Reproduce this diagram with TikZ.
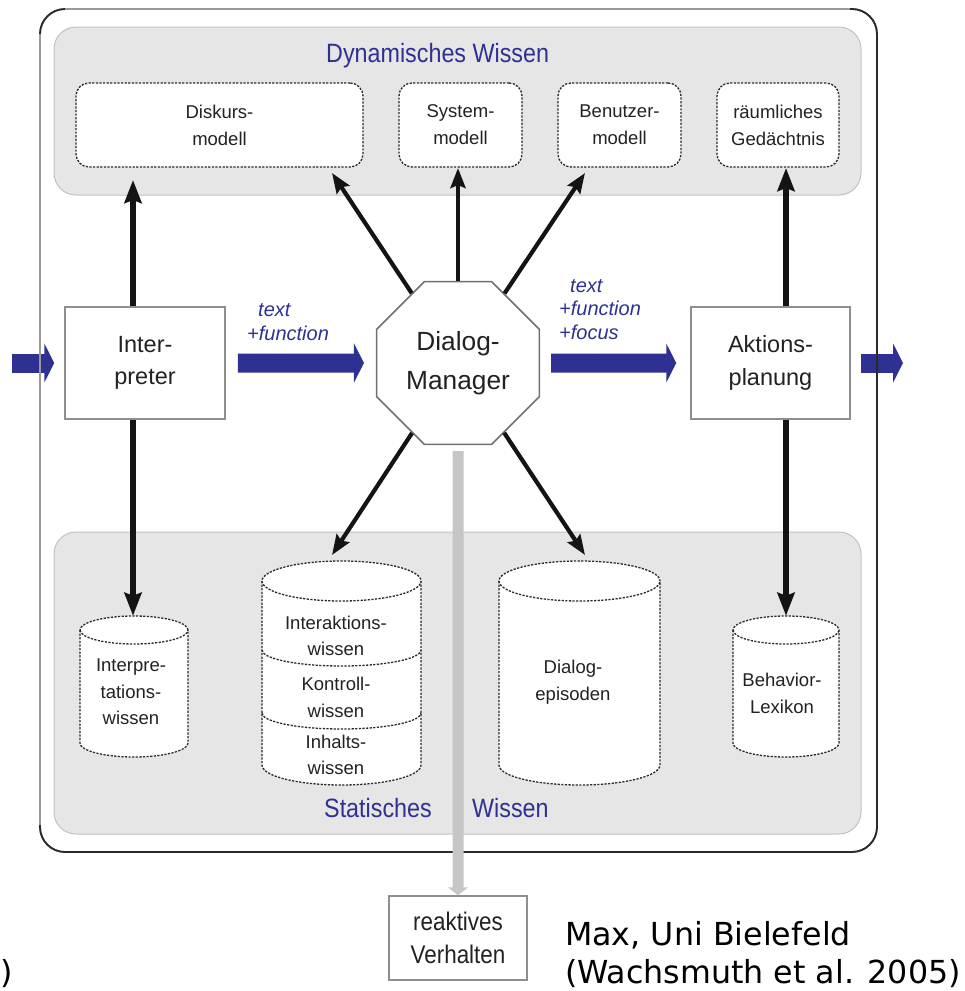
\documentclass[tikz,border=0pt]{standalone}
\usepackage{fontspec}
\usetikzlibrary{arrows.meta,shapes.geometric}
\setmainfont{Liberation Sans}
\newfontfamily\sansfont{Liberation Sans}
\newfontfamily\narrowfont[FakeStretch=0.88]{Liberation Sans}
\newfontfamily\creditfont{DejaVu Sans}

\definecolor{diagblue}{HTML}{2E3192}
\definecolor{panelfill}{HTML}{E6E6E6}
\definecolor{panelline}{HTML}{C2C2C2}
\definecolor{dashline}{HTML}{2A2A2A}
\definecolor{boxline}{HTML}{8E8E8E}
\definecolor{octline}{HTML}{707070}
\definecolor{arrowblack}{HTML}{141414}
\definecolor{barg}{HTML}{C6C6C6}
\definecolor{outerlight}{HTML}{9A9A9A}
\definecolor{outerdark}{HTML}{2A2A2A}
\definecolor{textdark}{HTML}{222222}

% cylinder outline: centre x, top y, bottom y, x radius, y radius (y measured downwards)
\newcommand\cylshape[5]{%
  \draw[cylline, fill=white] (#1-#4,-#2-#5) -- (#1-#4,-#3+#5)
    arc[start angle=180, end angle=360, x radius=#4pt, y radius=#5pt]
    -- (#1+#4,-#2-#5)
    arc[start angle=0, end angle=180, x radius=#4pt, y radius=#5pt] -- cycle;
  \draw[cylline] (#1-#4,-#2-#5)
    arc[start angle=180, end angle=360, x radius=#4pt, y radius=#5pt];
}

\tikzset{
  panel/.style={draw=panelline, fill=panelfill, line width=1pt, rounded corners=22pt},
  paneltitle/.style={font=\narrowfont\fontsize{26.5}{30}\selectfont, text=diagblue, inner sep=0pt, anchor=base west},
  dbox/.style={draw=dashline, dash pattern=on 2.2pt off 1.4pt, line width=1.3pt, fill=white,
    rounded corners=13pt, align=center, inner sep=0pt, text=textdark,
    font=\sansfont\fontsize{18.5}{27}\selectfont},
  cylline/.style={draw=dashline, dash pattern=on 2.2pt off 1.4pt, line width=1.3pt},
  cylnode/.style={draw=none, inner sep=0pt},
  cyltext/.style={align=center, inner sep=0pt, text=textdark, font=\sansfont\fontsize{18.5}{26.5}\selectfont},
  procbox/.style={draw=boxline, line width=1.5pt, fill=white, align=center, inner sep=0pt,
    text=textdark, font=\sansfont\fontsize{23.5}{32.5}\selectfont},
  octbox/.style={regular polygon, regular polygon sides=8, minimum size=176pt, draw=octline,
    line width=1.5pt, fill=white, align=center, inner sep=0pt, text=textdark,
    font=\sansfont\fontsize{26.3}{38.5}\selectfont},
  reactbox/.style={draw=boxline, line width=1.5pt, fill=white, align=center, inner sep=0pt,
    text=textdark, font=\narrowfont\fontsize{25.5}{33}\selectfont},
  flowlabel/.style={align=left, inner sep=0pt, anchor=west, text=diagblue,
    font=\sansfont\itshape\fontsize{20}{23.5}\selectfont},
  bluearrow/.style={draw=diagblue, line width=19pt, -{Triangle[length=10pt,width=39pt]}},
  vbar/.style={draw=arrowblack, line width=6.5pt, -{Stealth[length=23pt,width=17pt,inset=3pt]}},
  radial/.style={draw=arrowblack, line width=4.2pt, -{Stealth[length=20pt,width=15pt,inset=3pt]}},
  greyarrow/.style={draw=barg, line width=11pt, -{Triangle[length=8pt,width=20pt]}},
  credit/.style={align=left, inner sep=0pt, text=black, font=\creditfont\fontsize{31.7}{38}\selectfont}
}

\begin{document}
\begin{tikzpicture}[x=1pt, y=1pt]
\useasboundingbox (0,0) rectangle (965,-991);

% knowledge panels
\draw[panel] (54,-27) rectangle (861,-195);
\draw[panel] (54,-532) rectangle (861,-834);
\node[paneltitle] (dyn) at (326,-62) {Dynamisches Wissen};
\node[paneltitle] (stat1) at (324,-817) {Statisches};
\node[paneltitle] (stat2) at (472,-817) {Wissen};

% dynamic knowledge stores
\node[dbox, minimum width=287pt, minimum height=84pt] (dk) at (219.5,-125) {Diskurs-\\modell};
\node[dbox, minimum width=123pt, minimum height=84pt] (sm) at (460.5,-125) {System-\\modell};
\node[dbox, minimum width=123pt, minimum height=84pt] (bm) at (619.5,-125) {Benutzer-\\modell};
\node[dbox, minimum width=122pt, minimum height=84pt] (rg) at (778,-125) {räumliches\\Gedächtnis};

% static knowledge stores
\cylshape{134}{616}{757}{54}{14}
\node[cylnode, minimum width=108pt, minimum height=141pt] (iw) at (134,-686.5) {};
\node[cyltext] (iwt) at (131,-692) {Interpre-\\tations-\\wissen};

\cylshape{341.5}{561}{785}{79.5}{20}
\draw[cylline] (262,-650) arc[start angle=180, end angle=360, x radius=79.5pt, y radius=16pt];
\draw[cylline] (262,-713) arc[start angle=180, end angle=360, x radius=79.5pt, y radius=16pt];
\node[cylnode, minimum width=159pt, minimum height=224pt] (kw) at (341.5,-673) {};
\node[cyltext] (kwt1) at (336,-636) {Interaktions-\\wissen};
\node[cyltext] (kwt2) at (336,-697.5) {Kontroll-\\wissen};
\node[cyltext] (kwt3) at (336,-755) {Inhalts-\\wissen};

\cylshape{579.5}{561}{785}{80.5}{20}
\node[cylnode, minimum width=161pt, minimum height=224pt] (de) at (579.5,-673) {};
\node[cyltext] (det) at (573,-682) {Dialog-\\episoden};

\cylshape{786}{616}{757}{53}{14}
\node[cylnode, minimum width=106pt, minimum height=141pt] (bl) at (786,-686.5) {};
\node[cyltext] (blt) at (782,-693.5) {Behavior-\\Lexikon};

% processing units
\node[procbox, minimum width=160pt, minimum height=112pt] (ip) at (145,-363) {Inter-\\preter};
\node[octbox] (dm) at (458,-363) {Dialog-\\Manager};
\node[procbox, minimum width=159pt, minimum height=112pt] (ap) at (770.5,-363) {Aktions-\\planung};
\node[reactbox, minimum width=138pt, minimum height=84pt] (rv) at (458,-938) {reaktives\\Verhalten};

% main data flow
\coordinate (inL) at (12,-363);
\coordinate (outR) at (903,-363);
\draw[bluearrow, shorten >=10pt] (inL) -- (ip);
\draw[bluearrow, shorten <=12pt, shorten >=12pt] (ip) -- (dm);
\draw[bluearrow, shorten <=11pt, shorten >=14pt] (dm) -- (ap);
\draw[bluearrow, shorten <=10pt] (ap) -- (outR);

% outer frame, lighter on the upper left, darker on the lower right
\draw[draw=outerlight, line width=1.8pt, rounded corners=25pt] (40,-9) rectangle (877,-852);
\draw[draw=outerdark, line width=1.8pt, rounded corners=25pt]
  (850,-9) -- (877,-9) -- (877,-852) -- (40,-852) -- (40,-825);
\draw[draw=outerdark, line width=1.8pt] (40,-34) arc[start angle=180, end angle=90, radius=25pt];

% access to the knowledge stores
\coordinate (tipDKa) at (133,-180);
\coordinate (tipRG) at (786,-168);
\draw[vbar] (ip.north -| tipDKa) -- (tipDKa);
\draw[vbar] (ip.south -| tipDKa) -- (iw.north -| tipDKa);
\draw[vbar] (ap.north -| tipRG) -- (tipRG);
\draw[vbar] (ap.south -| tipRG) -- (bl.north);

\coordinate (tipDKb) at (332,-173);
\coordinate (tipSM) at (458,-168);
\coordinate (tipBM) at (585,-173);
\coordinate (tipKW) at (332,-555);
\coordinate (tipDE) at (585,-555);
\draw[radial] (dm) -- (tipDKb);
\draw[radial] (dm) -- (tipSM);
\draw[radial] (dm) -- (tipBM);
\draw[radial] (dm) -- (tipKW);
\draw[radial] (dm) -- (tipDE);

% reactive shortcut
\draw[greyarrow, shorten <=6pt] (dm.south) -- (rv.north);

% flow labels
\node[flowlabel] (lab1) at (247,-322) {\hspace*{11pt}text\\+function};
\node[flowlabel] (lab2) at (559,-309.5) {\hspace*{11pt}text\\+function\\+focus};

% credit
\node[credit, anchor=north west] (cred) at (565,-921) {Max, Uni Bielefeld\\(Wachsmuth et al. 2005)};
\node[credit, anchor=base west] (paren) at (0,-983) {)};
\end{tikzpicture}
\end{document}
